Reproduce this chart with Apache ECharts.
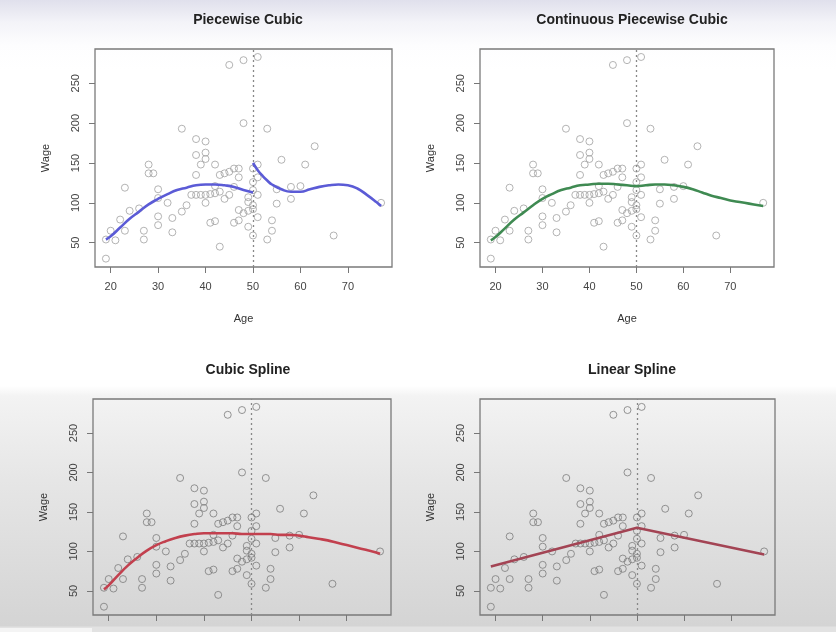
<!DOCTYPE html>
<html>
<head>
<meta charset="utf-8">
<script src="https://cdn.jsdelivr.net/npm/echarts@6/dist/echarts.min.js"></script>
<style>
html,body{margin:0;padding:0;width:836px;height:632px;overflow:hidden;
background:linear-gradient(to bottom,#e0e0ec 0px,#f3f3f8 22px,#fdfdfe 45px,#ffffff 70px,#ffffff 386px,#f3f3f3 396px,#e6e6e6 480px,#d4d4d4 626px,#e2e2e2 627px,#e2e2e2 632px);}
#c{width:836px;height:632px;}
</style>
</head>
<body>
<div id="c"></div>
<script>
// Observed data (same points in all panels)
const ageValues  = [19,19,20,21,22,23,23,24,26,27,27,28,28,29,30,30,30,30,32,33,33,35,35,36,37,38,39,40,41,42,38,38,38,39,40,40,40,40,41,42,42,42,43,43,44,45,46,47,43,44,45,45,46,47,47,46,48,48,47,48,49,50,51,50,51,50,50,49,49,50,49,50,51,51,51,53,53,54,54,55,56,55,58,58,60,61,63,67,77];
const wageValues = [30,54,65,53,79,119,65,90,93,65,54,148,137,137,117,106,83,72,100,81,63,193,89,97,110,110,110,110,111,112,180,160,135,148,177,163,155,100,75,77,148,121,45,135,137,139,143,143,114,105,110,273,75,78,132,120,279,200,91,87,70,59,283,143,148,126,116,107,101,97,90,92,110,82,132,193,54,78,65,99,154,117,105,120,121,148,171,59,100];

const xTicks = [20,30,40,50,60,70];
const yTicks = [50,100,150,200,250];
const knotAge = 50;

// Piecewise cubic (two separate pieces)
const pcLeftAge  = [19,20,22,24,26,28,30,32,34,36,38,40,42,44,46,48,50];
const pcLeftFit  = [54,58,69,80,89,98,105,111,116,119,122,123,123,122,120,116,113];
const pcRightAge = [50,51,52,53,54,56,58,60,62,64,66,68,70,72,74,76,77];
const pcRightFit = [150,141,134,128,123,117,114,114,117,120,122,123,122,118,110,101,96];

// Continuous piecewise cubic
const contAge = [19,20,22,24,26,28,30,32,34,36,38,40,42,44,46,48,50,52,54,56,58,60,62,64,66,68,70,72,74,76,77];
const contFit = [53,57,68,79,88,97,105,111,116,119,122,123,124,124,123,122,121,122,123,123,122,120,117,113,109,106,103,101,99,97,96];

// Cubic spline
const csAge = [19,20,22,24,26,28,30,32,34,36,38,40,42,44,46,48,50,52,54,56,58,60,62,64,66,68,70,72,74,76,77];
const csFit = [52,57,70,82,92,101,108,113,117,120,122,123,123,123,123,122,122,122,122,121,121,120,118,116,114,111,108,105,102,99,97];

// Linear spline
const lsAge = [19,50,77];
const lsFit = [81,130,96];

const titles = ['Piecewise Cubic','Continuous Piecewise Cubic','Cubic Spline','Linear Spline'];

const points = ageValues.map((a,i)=>[a,wageValues[i]]);
const zip = (xs,ys)=>xs.map((x,i)=>[x,ys[i]]);

const grids = [
  {left:95, top:49, width:297, height:218},
  {left:480,top:49, width:294, height:218},
  {left:93, top:399,width:298, height:216},
  {left:480,top:399,width:295, height:216}
];
const titlePos = [[243,8],[627,8],[243,358],[627,358]];

const xAxes = grids.map((g,i)=>({
  type:'value', gridIndex:i, min:16.7, max:79.3,
  name: i<2 ? 'Age' : '', nameLocation:'middle', nameGap:46,
  nameTextStyle:{fontFamily:'Liberation Sans',fontSize:11,color:'#333'},
  axisLine:{show:false},
  axisTick:{show:true, length:6, customValues:xTicks, lineStyle:{color:'#777',width:1}},
  axisLabel:{show:i<2, customValues:xTicks, margin:14, fontFamily:'Liberation Sans',fontSize:11,color:'#444'},
  splitLine:{show:false}
}));
const yAxes = grids.map((g,i)=>({
  type:'value', gridIndex:i, min:19.5, max:293,
  name:'Wage', nameLocation:'middle', nameGap:44, nameRotate:90,
  nameTextStyle:{fontFamily:'Liberation Sans',fontSize:11,color:'#333'},
  axisLine:{show:false},
  axisTick:{show:true, length:6, customValues:yTicks, lineStyle:{color:'#777',width:1}},
  axisLabel:{customValues:yTicks, rotate:90, margin:14, fontFamily:'Liberation Sans',fontSize:11,color:'#444'},
  splitLine:{show:false}
}));

const ptColor = ['#a0a0a0','#a0a0a0','#7c7c7c','#7c7c7c'];
const series = [];
grids.forEach((g,i)=>{
  series.push({
    type:'scatter', xAxisIndex:i, yAxisIndex:i, data:points, symbol:'circle', symbolSize:7,
    itemStyle:{color:'rgba(0,0,0,0)', borderColor:ptColor[i], borderWidth:1},
    silent:true, z:2,
    markLine:{silent:true, symbol:'none', label:{show:false},
      lineStyle:{color:'#888',type:[2,3],width:1.3}, data:[{xAxis:knotAge}]}
  });
});
const lineBase = (i,data,color,smooth)=>({type:'line',xAxisIndex:i,yAxisIndex:i,data,smooth,showSymbol:false,
  lineStyle:{color,width:2.6},silent:true,z:5});
series.push(lineBase(0,zip(pcLeftAge,pcLeftFit),'#5b5bd6',true));
series.push(lineBase(0,zip(pcRightAge,pcRightFit),'#5b5bd6',true));
series.push(lineBase(1,zip(contAge,contFit),'#3f8a52',true));
series.push(lineBase(2,zip(csAge,csFit),'#c2404e',true));
series.push(lineBase(3,zip(lsAge,lsFit),'#a34454',false));

const chart = echarts.init(document.getElementById('c'), null, {renderer:'canvas'});
chart.setOption({
  backgroundColor:'transparent',
  animation:false,
  title: titles.map((t,i)=>({text:t,left:titlePos[i][0],top:titlePos[i][1],textAlign:'center',
    textStyle:{fontFamily:'Liberation Sans',fontWeight:'bold',fontSize:14,color:'#222'}})),
  grid: grids.map(g=>Object.assign({show:true,borderColor:'#7a7a7a',borderWidth:1.3,backgroundColor:'transparent'},g)),
  xAxis:xAxes, yAxis:yAxes, series,
  graphic:[{type:'rect',shape:{x:0,y:628,width:92,height:4},style:{fill:'#f4f4f4'},silent:true}]
});
</script>
</body>
</html>
